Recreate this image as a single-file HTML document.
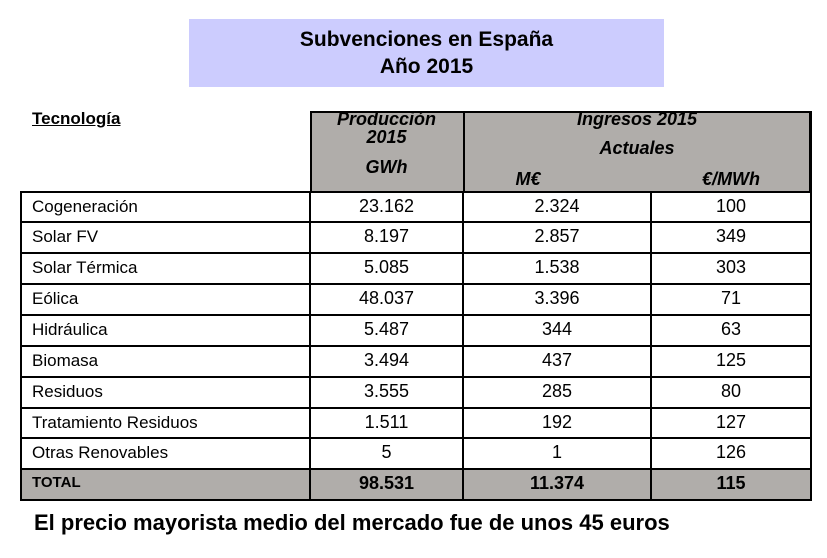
<!DOCTYPE html>
<html><head><meta charset="utf-8"><style>
body{margin:0;width:827px;height:558px;background:#fff;position:relative;overflow:hidden;font-family:"Liberation Sans",sans-serif}
.a{position:absolute}
.title{left:189px;top:19px;width:475px;height:68px;background:#ccccfe;text-align:center;font-weight:bold;font-size:21px;line-height:27px;padding-top:7px;box-sizing:border-box}
.hd{left:310px;top:111px;width:501px;height:81px;background:#b0adaa;border:2px solid #000;border-bottom:none;box-sizing:border-box}
.vl{width:2px;background:#000}
.hl{height:2px;background:#000;left:21px;width:790px}
.c{font-family:"Liberation Sans Narrow","Liberation Sans",sans-serif;font-size:18px;text-align:center}
.i{font-style:italic;font-weight:bold;font-size:18px;text-align:center}
.l{font-size:17px;left:32px}
</style></head><body>
<div class="a title">Subvenciones en España<br>Año 2015</div>
<div class="a" style="left:32px;top:109px;font-weight:bold;font-size:17px;text-decoration:underline">Tecnología</div>
<div class="a hd"></div>
<div class="a vl" style="left:463px;top:111px;height:81px"></div>
<div class="a i" style="left:310px;top:110px;width:153px;line-height:18px">Producción<br>2015</div>
<div class="a i" style="left:310px;top:157px;width:153px">GWh</div>
<div class="a i" style="left:463px;top:109px;width:348px">Ingresos 2015</div>
<div class="a i" style="left:463px;top:138px;width:348px">Actuales</div>
<div class="a i" style="left:463px;top:169px;width:130px">M€</div>
<div class="a i" style="left:651px;top:169px;width:160px">€/MWh</div>
<div class="a" style="left:21px;top:469px;width:790px;height:31px;background:#b0adaa"></div>
<div class="a hl" style="top:191px"></div>
<div class="a hl" style="top:221px"></div>
<div class="a hl" style="top:252px"></div>
<div class="a hl" style="top:283px"></div>
<div class="a hl" style="top:314px"></div>
<div class="a hl" style="top:345px"></div>
<div class="a hl" style="top:376px"></div>
<div class="a hl" style="top:407px"></div>
<div class="a hl" style="top:437px"></div>
<div class="a hl" style="top:468px"></div>
<div class="a hl" style="top:499px"></div>
<div class="a vl" style="left:20px;top:191px;height:310px"></div>
<div class="a vl" style="left:309px;top:191px;height:310px"></div>
<div class="a vl" style="left:462px;top:191px;height:310px"></div>
<div class="a vl" style="left:650px;top:191px;height:310px"></div>
<div class="a vl" style="left:810px;top:111px;height:390px"></div>
<div id="rows"></div>
<script>
var d=[["Cogeneración","23.162","2.324","100"],["Solar FV","8.197","2.857","349"],["Solar Térmica","5.085","1.538","303"],["Eólica","48.037","3.396","71"],["Hidráulica","5.487","344","63"],["Biomasa","3.494","437","125"],["Residuos","3.555","285","80"],["Tratamiento Residuos","1.511","192","127"],["Otras Renovables","5","1","126"],["TOTAL","98.531","11.374","115"]];
var t=[193,223,254,285,316,347,378,409,439,470],h="";
d.forEach(function(r,k){var y=t[k]+3,b=k==9?"font-weight:bold;":"";
h+='<div class="a l" style="top:'+(y+1)+'px;'+b+(k==9?'font-size:15px;':'')+'">'+r[0]+'</div>';
h+='<div class="a c" style="'+b+'left:310px;width:153px;top:'+y+'px">'+r[1]+'</div>';
h+='<div class="a c" style="'+b+'left:463px;width:188px;top:'+y+'px">'+r[2]+'</div>';
h+='<div class="a c" style="'+b+'left:651px;width:160px;top:'+y+'px">'+r[3]+'</div>';});
document.getElementById("rows").innerHTML=h;
</script>
<div class="a" style="left:34px;top:510px;font-weight:bold;font-size:22px">El precio mayorista medio del mercado fue de unos 45 euros</div>
</body></html>
